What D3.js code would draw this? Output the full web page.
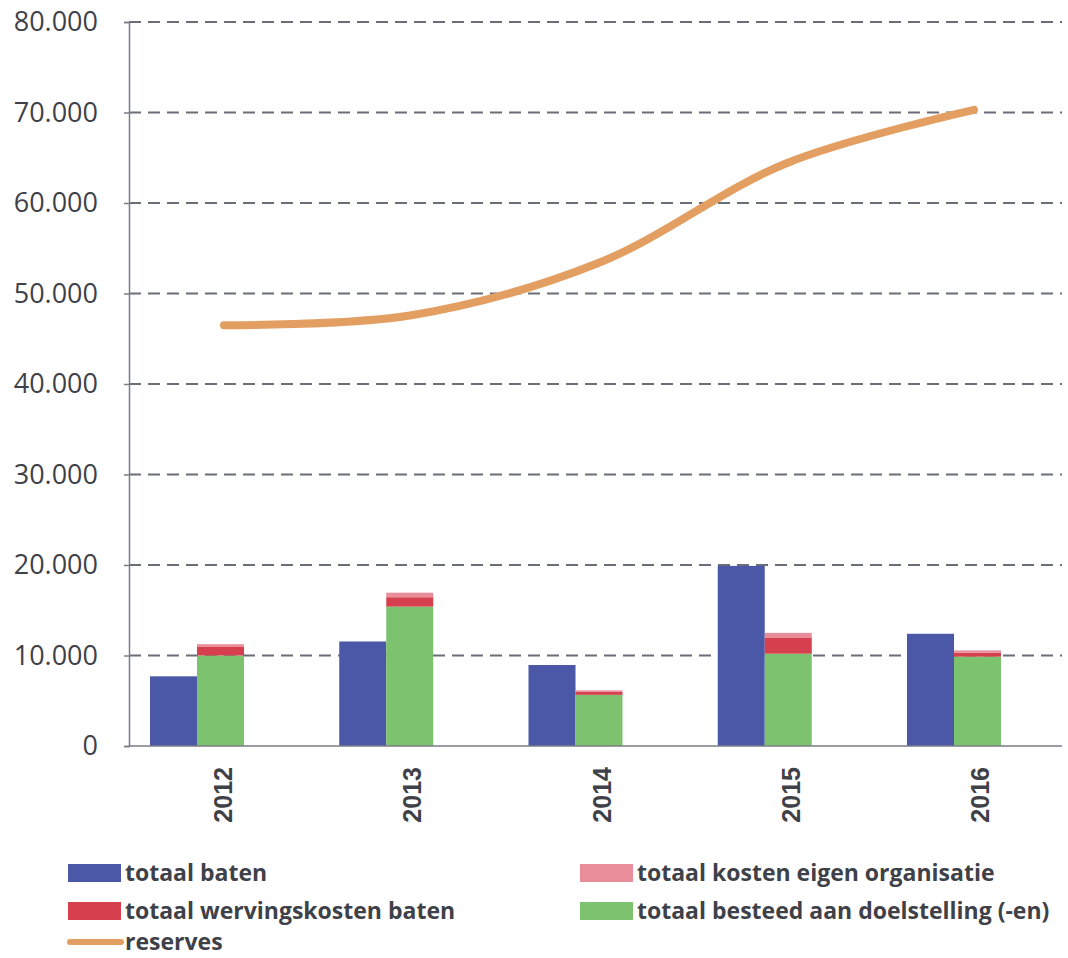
<!DOCTYPE html>
<html>
<head>
<meta charset="utf-8">
<script src="https://cdn.jsdelivr.net/npm/d3@7"></script>
<style>
  html, body { margin: 0; padding: 0; background: #fff; }
  svg { display: block; }
</style>
</head>
<body>
<div id="chart"></div>
<script>
// Baten, kosten en reserves 2012-2016

var years = ['2012', '2013', '2014', '2015', '2016']
var baten = [7700, 11550, 8950, 19900, 12400]
var besteed = [10000, 15400, 5650, 10200, 9870]
var werving = [1000, 1040, 330, 1800, 440]
var kostenEigen = [250, 500, 170, 500, 250]
var reserves = [46500, 47600, 53400, 64400, 70300]
var yTicks = [0, 10000, 20000, 30000, 40000, 50000, 60000, 70000, 80000]

var colors = {
  baten: '#4b58a8',
  besteed: '#7dc26f',
  werving: '#d63f4e',
  kosten: '#e88d99',
  reserves: '#e39f62'
}

var width = 1068
var height = 958
var plot = { left: 129, right: 1062, top: 22, bottom: 746 }

var svg = d3.select('#chart').append('svg')
  .attr('width', width)
  .attr('height', height)

// bar group centres
var x = d3.scalePoint()
  .domain(years)
  .range([197, 954])

// the reserves line sits a bit to the right of the bar groups
var xLine = d3.scalePoint()
  .domain(years)
  .range([224, 974])

var y = d3.scaleLinear()
  .domain([0, 80000])
  .range([plot.bottom, plot.top])

var fmt = function (d) { return d === 0 ? '0' : d3.format(',')(d).replace(/,/g, '.') }

// gridlines
svg.append('g')
  .selectAll('line')
  .data(yTicks.filter(function (d) { return d > 0 }))
  .enter().append('line')
  .attr('x1', plot.left)
  .attr('x2', plot.right)
  .attr('y1', function (d) { return y(d) })
  .attr('y2', function (d) { return y(d) })
  .attr('stroke', '#6b6d78')
  .attr('stroke-width', 2)
  .attr('stroke-dasharray', '12,7')

// bars
var barW = 47
var groups = svg.append('g')
  .selectAll('g')
  .data(years)
  .enter().append('g')
  .attr('transform', function (d) { return 'translate(' + x(d) + ',0)' })

groups.append('rect')
  .attr('x', -barW)
  .attr('width', barW)
  .attr('y', function (d, i) { return y(baten[i]) })
  .attr('height', function (d, i) { return y(0) - y(baten[i]) })
  .attr('fill', colors.baten)

var stackKeys = [
  { vals: besteed, color: colors.besteed },
  { vals: werving, color: colors.werving },
  { vals: kostenEigen, color: colors.kosten }
]

groups.each(function (d, i) {
  var g = d3.select(this)
  var base = 0
  stackKeys.forEach(function (k) {
    var v = k.vals[i]
    g.append('rect')
      .attr('x', 0)
      .attr('width', barW)
      .attr('y', y(base + v))
      .attr('height', y(base) - y(base + v))
      .attr('fill', k.color)
    base += v
  })
})

// reserves line
var line = d3.line()
  .x(function (d, i) { return xLine(years[i]) })
  .y(function (d) { return y(d) })
  .curve(d3.curveCatmullRom.alpha(0.5))

svg.append('path')
  .datum(reserves)
  .attr('d', line)
  .attr('fill', 'none')
  .attr('stroke', colors.reserves)
  .attr('stroke-width', 8)
  .attr('stroke-linecap', 'round')

// y axis
var yAxis = svg.append('g')
  .attr('transform', 'translate(' + plot.left + ',0)')
  .call(d3.axisLeft(y).tickValues(yTicks).tickFormat(fmt).tickSize(5).tickPadding(26))

yAxis.select('.domain').attr('stroke', '#7a7c86').attr('stroke-width', 1.5)
yAxis.selectAll('.tick line').attr('stroke', '#7a7c86').attr('stroke-width', 1.5)
yAxis.selectAll('.tick text')
  .attr('fill', '#3f4148')
  .style('font-family', '"Open Sans", sans-serif')
  .style('font-size', '27px')

// x axis baseline
svg.append('line')
  .attr('x1', plot.left)
  .attr('x2', plot.right)
  .attr('y1', y(0))
  .attr('y2', y(0))
  .attr('stroke', '#7a7c86')
  .attr('stroke-width', 1.5)

// x labels, rotated
svg.append('g')
  .selectAll('text')
  .data(years)
  .enter().append('text')
  .attr('transform', function (d) {
    return 'translate(' + (x(d) + 35) + ',767)rotate(-90)'
  })
  .attr('text-anchor', 'end')
  .attr('fill', '#3f4148')
  .style('font-family', '"Liberation Sans", Arial, sans-serif')
  .style('font-weight', 'bold')
  .style('font-size', '25px')
  .text(function (d) { return d })

// legend
var legendItems = [
  { label: 'totaal baten', color: colors.baten, type: 'rect', x: 68, y: 873 },
  { label: 'totaal wervingskosten baten', color: colors.werving, type: 'rect', x: 68, y: 911 },
  { label: 'reserves', color: colors.reserves, type: 'line', x: 68, y: 942 },
  { label: 'totaal kosten eigen organisatie', color: colors.kosten, type: 'rect', x: 580, y: 873 },
  { label: 'totaal besteed aan doelstelling (-en)', color: colors.besteed, type: 'rect', x: 580, y: 911 }
]

var leg = svg.append('g')
  .selectAll('g')
  .data(legendItems)
  .enter().append('g')
  .attr('transform', function (d) { return 'translate(' + d.x + ',' + d.y + ')' })

leg.filter(function (d) { return d.type === 'rect' })
  .append('rect')
  .attr('x', 0)
  .attr('y', -9)
  .attr('width', 53)
  .attr('height', 18)
  .attr('fill', function (d) { return d.color })

leg.filter(function (d) { return d.type === 'line' })
  .append('line')
  .attr('x1', 2)
  .attr('x2', 53)
  .attr('y1', 0)
  .attr('y2', 0)
  .attr('stroke', function (d) { return d.color })
  .attr('stroke-width', 6)
  .attr('stroke-linecap', 'round')

leg.append('text')
  .attr('x', 57)
  .attr('y', 0)
  .attr('dy', '0.35em')
  .attr('fill', '#3f4148')
  .style('font-family', '"Liberation Sans Narrow", "Open Sans", sans-serif')
  .style('font-weight', 'bold')
  .style('font-size', '23px')
  .text(function (d) { return d.label })
</script>
</body>
</html>
